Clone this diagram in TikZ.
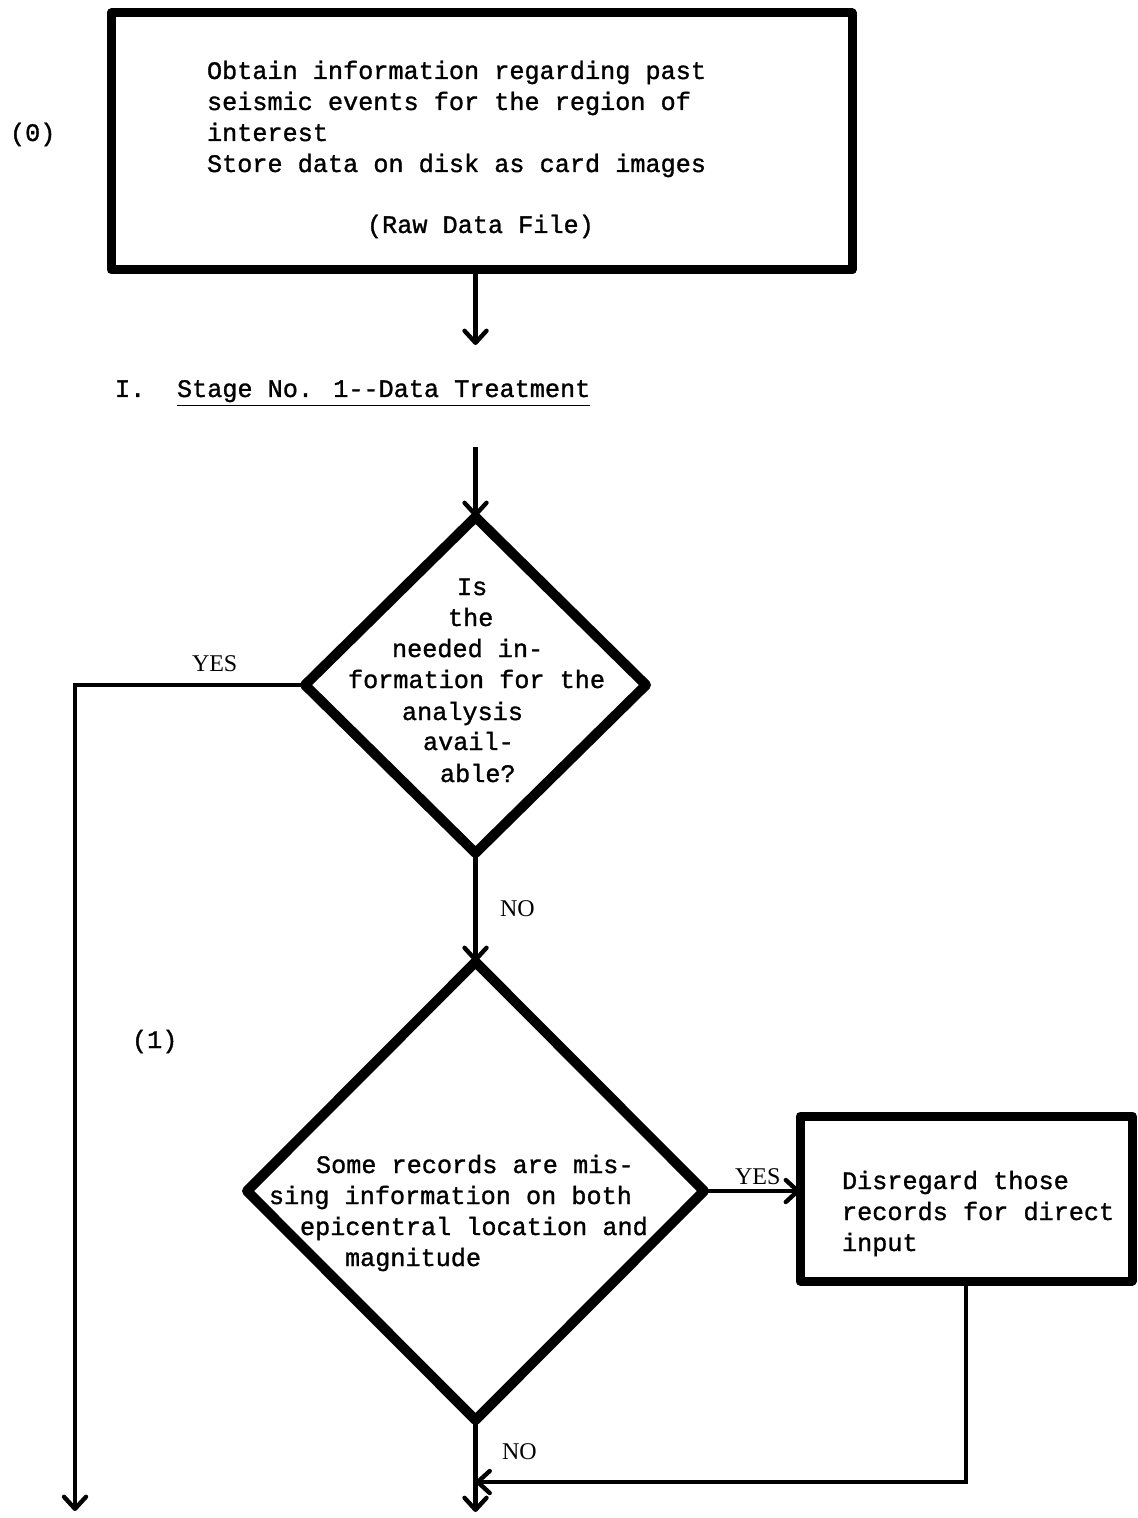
\documentclass[tikz,border=0pt]{standalone}
\usepackage{fontspec}
\newfontfamily\tw{Liberation Mono}[FakeBold=1.2,Ligatures=TeXOff]
\newfontfamily\lab{Liberation Serif}
\usetikzlibrary{arrows.meta,shapes.geometric}
\begin{document}
\begin{tikzpicture}[x=0.5pt,y=-0.5pt,
  every node/.style={inner sep=0pt,outer sep=0pt},
  txt/.style={anchor=base west,font=\tw\fontsize{12.6}{15.5}\selectfont},
  lbl/.style={anchor=base west,font=\lab\fontsize{12}{14}\selectfont},
  heavybox/.style={draw,rectangle,line width=4.5pt,line join=round},
  decision/.style={draw,diamond,line width=5pt,line join=round},
  flow/.style={line width=2.2pt,-{Straight Barb[length=6pt,width=11pt,round]}},
]
\fill[white] (0,0) rectangle (1138,1518);
\useasboundingbox (0,0) rectangle (1138,1518);

% (0) source box
\node[heavybox,minimum width=370.5pt,minimum height=128.5pt] (src) at (481.5,141.5) {};
\node[txt] (s1) at (207,79)  {Obtain information regarding past};
\node[txt] (s2) at (207,110) {seismic events for the region of};
\node[txt] (s3) at (207,141) {interest};
\node[txt] (s4) at (207,172) {Store data on disk as card images};
\node[txt] (s5) at (367,233) {(Raw Data File)};
\node[txt] (lab0) at (10,141) {(0)};

\coordinate (a0) at (475.5,345);
\draw[flow] (src.south -| a0) -- (a0);

% stage heading
\node[txt] (st1) at (115,397) {I.};
\node[txt] (st2) at (177,397) {\underline{Stage No. 1--Data Treatment}};

% first decision
\node[decision,minimum width=170.5pt,minimum height=168pt] (d1) at (475.5,685) {};
\coordinate (a1) at (475.5,447);
\draw[flow] (a1) -- (d1.north);
\node[txt] (q1) at (457,595) {Is};
\node[txt] (q2) at (448,626) {the};
\node[txt] (q3) at (392,657) {needed in-};
\node[txt] (q4) at (348,688) {formation for the};
\node[txt] (q5) at (402,720) {analysis};
\node[txt] (q6) at (423,750) {avail-};
\node[txt] (q7) at (440,782) {able?};

% YES branch on the left
\node[lbl] (yes1) at (192,671) {YES};
\coordinate (yend) at (75,1511);
\draw[flow] (d1.west) -| (yend);

% second decision
\node[decision,minimum width=228.5pt,minimum height=229pt] (d2) at (475.5,1191) {};
\node[lbl] (no1) at (500,916) {NO};
\draw[flow] (d1.south) -- (d2.north);
\node[txt] (lab1) at (132,1048) {(1)};
\node[txt] (r1) at (316,1173) {Some records are mis-};
\node[txt] (r2) at (269,1204) {sing information on both};
\node[txt] (r3) at (300,1235) {epicentral location and};
\node[txt] (r4) at (345,1266) {magnitude};

% disregard box
\node[heavybox,minimum width=166pt,minimum height=82.5pt] (dis) at (966,1198.5) {};
\node[txt] (w1) at (842,1189) {Disregard those};
\node[txt] (w2) at (842,1220) {records for direct};
\node[txt] (w3) at (842,1251) {input};
\node[lbl] (yes2) at (735,1184) {YES};
\draw[flow] (d2.east) -- (d2.east -| dis.west);

% return path and exits
\coordinate (join) at (475.5,1482);
\draw[flow] (dis.south) |- (join);
\node[lbl] (no2) at (502,1459) {NO};
\coordinate (dend) at (475.5,1512);
\draw[flow] (d2.south) -- (dend);
\end{tikzpicture}
\end{document}
